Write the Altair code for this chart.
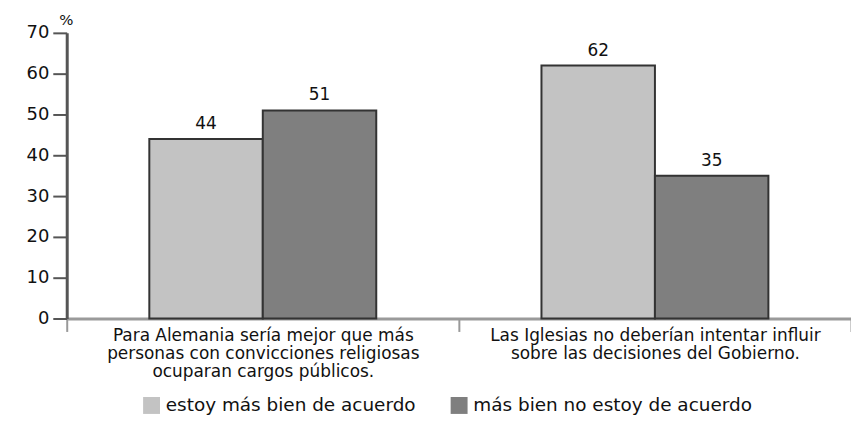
import altair as alt
import pandas as pd

categories = [
    "Para Alemania sería mejor que más|personas con convicciones religiosas|ocuparan cargos públicos.",
    "Las Iglesias no deberían intentar influir|sobre las decisiones del Gobierno.",
]
series = ["estoy más bien de acuerdo", "más bien no estoy de acuerdo"]
agree = [44, 62]
disagree = [51, 35]
colors = ["#c3c3c3", "#7f7f7f"]

rows = []
for i, c in enumerate(categories):
    rows.append({"cat": c, "serie": series[0], "val": agree[i]})
    rows.append({"cat": c, "serie": series[1], "val": disagree[i]})
df = pd.DataFrame(rows)

FONT = "DejaVu Sans"

x = alt.X(
    "cat:N",
    sort=categories,
    scale=alt.Scale(paddingInner=0, paddingOuter=0),
    axis=alt.Axis(
        title=None,
        grid=False,
        labelAngle=0,
        labelExpr="split(datum.label, '|')",
        labelFont=FONT,
        labelFontSize=17,
        labelColor="#111",
        labelPadding=-4,
        labelLineHeight=18,
        labelLimit=0,
        tickBand="extent",
        tickSize=13,
        tickColor="#999",
        tickWidth=2,
        domainColor="#9a9a9a",
        domainWidth=3,
    ),
)
xo = alt.XOffset(
    "serie:N", sort=series, scale=alt.Scale(paddingInner=0, paddingOuter=0.728)
)
y = alt.Y(
    "val:Q",
    scale=alt.Scale(domain=[0, 70]),
    axis=alt.Axis(
        values=[0, 10, 20, 30, 40, 50, 60, 70],
        grid=False,
        title="%",
        titleAngle=0,
        titleAlign="left",
        titleBaseline="bottom",
        titleX=-8,
        titleY=-5,
        titleFont=FONT,
        titleFontSize=15,
        titleFontWeight="normal",
        titleColor="#111",
        labelFont=FONT,
        labelFontSize=18,
        labelColor="#111",
        labelPadding=4,
        tickSize=14,
        tickColor="#555",
        tickWidth=2,
        domainColor="#555",
        domainWidth=3,
    ),
)

bars = alt.Chart(df).mark_bar(stroke="#333", strokeWidth=2).encode(
    x=x,
    xOffset=xo,
    y=y,
    color=alt.Color(
        "serie:N",
        sort=series,
        scale=alt.Scale(domain=series, range=colors),
        legend=alt.Legend(
            title=None,
            orient="none",
            direction="horizontal",
            legendX=76,
            legendY=365,
            symbolType="square",
            symbolSize=289,
            symbolStrokeWidth=0,
            labelFont=FONT,
            labelFontSize=18.5,
            labelColor="#111",
            labelLimit=0,
            columnPadding=34,
            labelOffset=5,
        ),
    ),
)

labels = alt.Chart(df).mark_text(
    baseline="bottom", dy=-6, font=FONT, fontSize=17, color="#111"
).encode(x=alt.X("cat:N", sort=categories), xOffset=xo, y="val:Q", text="val:Q")

chart = (
    alt.layer(bars, labels)
    .properties(
        width=788,
        height=287,
        background="white",
        autosize=alt.AutoSizeParams(type="none"),
        padding={"left": 59, "top": 24, "right": 0, "bottom": 100},
    )
    .configure_view(strokeWidth=0, stroke="transparent")
)

chart.save("out.html", embed_options={"renderer": "svg", "actions": False})
